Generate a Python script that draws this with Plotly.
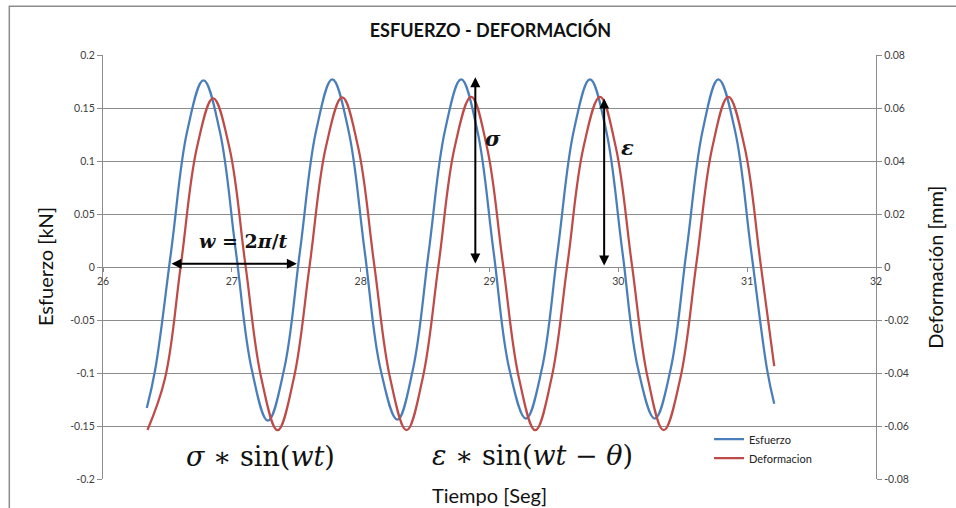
import plotly.graph_objects as go

# ---- data ----
esfuerzo_t = [26.34, 26.405, 26.53, 26.655, 26.78, 26.905, 27.03, 27.155, 27.28,
              27.405, 27.53, 27.655, 27.78, 27.905, 28.03, 28.155, 28.285,
              28.405, 28.53, 28.655, 28.78, 28.905, 29.03, 29.155, 29.283,
              29.405, 29.53, 29.655, 29.78, 29.905, 30.03, 30.155, 30.283,
              30.405, 30.53, 30.655, 30.777, 30.905, 31.03, 31.155, 31.21]
esfuerzo_kN = [-0.133, -0.097, 0.016, 0.129, 0.176, 0.129, 0.016, -0.097, -0.145,
               -0.097, 0.016, 0.129, 0.177, 0.129, 0.016, -0.097, -0.144,
               -0.097, 0.016, 0.129, 0.177, 0.129, 0.016, -0.097, -0.143,
               -0.097, 0.016, 0.129, 0.177, 0.129, 0.016, -0.097, -0.143,
               -0.097, 0.016, 0.129, 0.177, 0.129, 0.016, -0.097, -0.129]

deform_t = [26.345, 26.48, 26.605, 26.73, 26.855, 26.98, 27.105, 27.23, 27.355,
            27.48, 27.605, 27.73, 27.857, 27.98, 28.105, 28.23, 28.356,
            28.48, 28.605, 28.73, 28.858, 28.98, 29.105, 29.23, 29.355,
            29.48, 29.605, 29.73, 29.858, 29.98, 30.105, 30.23, 30.352,
            30.48, 30.605, 30.73, 30.854, 30.98, 31.105, 31.21]
deform_mm = [-0.0615, -0.0423, 0.001, 0.0453, 0.0636, 0.0453, 0.001, -0.0423, -0.0616,
             -0.0423, 0.001, 0.0453, 0.064, 0.0453, 0.001, -0.0423, -0.0616,
             -0.0423, 0.001, 0.0453, 0.0642, 0.0453, 0.001, -0.0423, -0.0616,
             -0.0423, 0.001, 0.0453, 0.0642, 0.0453, 0.001, -0.0423, -0.0616,
             -0.0423, 0.001, 0.0453, 0.0642, 0.0453, 0.001, -0.0374]

x_ticks = [26, 27, 28, 29, 30, 31, 32]
y1_ticks = [0.2, 0.15, 0.1, 0.05, 0, -0.05, -0.1, -0.15, -0.2]
y1_labels = ["0.2", "0.15", "0.1", "0.05", "0", "-0.05", "-0.1", "-0.15", "-0.2"]
y2_ticks = [0.08, 0.06, 0.04, 0.02, 0, -0.02, -0.04, -0.06, -0.08]
y2_labels = ["0.08", "0.06", "0.04", "0.02", "0", "-0.02", "-0.04", "-0.06", "-0.08"]

BLUE = "#4A7EBB"
RED = "#BE4B48"
GRID = "#8C8C8C"
TXT = "#404040"
FONT = "Lato"
MATH = "DejaVu Serif"

fig = go.Figure()
fig.add_trace(go.Scatter(x=esfuerzo_t, y=esfuerzo_kN, name="Esfuerzo", mode="lines",
                         line=dict(color=BLUE, width=2.25, shape="spline", smoothing=1.1)))
fig.add_trace(go.Scatter(x=deform_t, y=deform_mm, name="Deformacion", mode="lines", yaxis="y2",
                         line=dict(color=RED, width=2.25, shape="spline", smoothing=1.1)))

ann = []
# double-headed arrows
arrow_common = dict(text="", showarrow=True, arrowside="end+start", arrowhead=2,
                    arrowsize=1, arrowwidth=2, arrowcolor="black",
                    xref="x", yref="y", axref="x", ayref="y", standoff=0, startstandoff=0)
ann.append(dict(x=27.505, y=0.003, ax=26.52, ay=0.003, **arrow_common))
ann.append(dict(x=28.89, y=0.179, ax=28.89, ay=0.002, **arrow_common))
ann.append(dict(x=29.89, y=0.159, ax=29.89, ay=0.0, **arrow_common))

# math labels
ann.append(dict(x=27.09, y=0.025, xref="x", yref="y", showarrow=False, xanchor="center",
                text="<b><i>w</i> = 2<i>π</i>/<i>t</i></b>",
                font=dict(family=MATH, size=19, color="#111")))
ann.append(dict(x=29.03, y=0.121, xref="x", yref="y", showarrow=False, xanchor="center",
                text="<b><i>σ</i></b>", font=dict(family=MATH, size=21, color="#111")))
ann.append(dict(x=30.07, y=0.113, xref="x", yref="y", showarrow=False, xanchor="center",
                text="<b><i>ε</i></b>", font=dict(family=MATH, size=21, color="#111")))
ann.append(dict(x=27.22, y=-0.179, xref="x", yref="y", showarrow=False, xanchor="center",
                text="<i>σ</i> ∗ sin(<i>wt</i>)", font=dict(family=MATH, size=27, color="#111")))
ann.append(dict(x=29.33, y=-0.178, xref="x", yref="y", showarrow=False, xanchor="center",
                text="<i>ε</i> ∗ sin(<i>wt</i> − <i>θ</i>)", font=dict(family=MATH, size=27, color="#111")))

# axis titles as annotations
ann.append(dict(x=-0.075, y=0.5, xref="paper", yref="paper", showarrow=False, textangle=-90,
                xanchor="center", yanchor="middle",
                text="Esfuerzo [kN]", font=dict(family=FONT, size=20, color="#111")))
ann.append(dict(x=1.076, y=0.5, xref="paper", yref="paper", showarrow=False, textangle=-90,
                xanchor="center", yanchor="middle",
                text="Deformación [mm]", font=dict(family=FONT, size=20, color="#111")))
ann.append(dict(x=0.5, y=-0.038, xref="paper", yref="paper", showarrow=False,
                xanchor="center", yanchor="middle",
                text="Tiempo [Seg]", font=dict(family=FONT, size=20, color="#111")))

fig.update_layout(
    width=956, height=508,
    margin=dict(l=103, r=80, t=55, b=29),
    paper_bgcolor="white", plot_bgcolor="white",
    title=dict(text="<b>ESFUERZO - DEFORMACIÓN</b>", x=0.513, xanchor="center",
               y=0.94, yanchor="middle", font=dict(family=FONT, size=18, color="#111")),
    font=dict(family=FONT, color=TXT),
    showlegend=True,
    legend=dict(x=0.784, y=0.128, xanchor="left", yanchor="top", bgcolor="rgba(0,0,0,0)",
                font=dict(family=FONT, size=11, color="#222"), tracegroupgap=0,
                itemwidth=30),
    annotations=ann,
    xaxis=dict(range=[26, 32], tickvals=x_ticks, ticktext=[str(v) for v in x_ticks],
               anchor="free", position=0.5, showgrid=False, zeroline=False, showline=False,
               ticks="outside", ticklen=4, tickcolor=GRID,
               tickfont=dict(family=FONT, size=10.5, color=TXT)),
    yaxis=dict(range=[-0.2, 0.2], tickvals=y1_ticks, ticktext=y1_labels,
               showgrid=True, gridcolor=GRID, gridwidth=1, zeroline=False,
               showline=True, linecolor=GRID, linewidth=1.2,
               ticks="outside", ticklen=5, tickcolor=GRID,
               tickfont=dict(family=FONT, size=10.5, color=TXT)),
    yaxis2=dict(range=[-0.08, 0.08], tickvals=y2_ticks, ticktext=y2_labels,
                overlaying="y", side="right", showgrid=False, zeroline=False,
                showline=True, linecolor=GRID, linewidth=1.2,
                ticks="outside", ticklen=5, tickcolor=GRID,
                tickfont=dict(family=FONT, size=10.5, color=TXT)),
    shapes=[dict(type="rect", xref="paper", yref="paper",
                 x0=-0.1212, x1=1.11, y0=-0.08, y1=1.1149,
                 line=dict(color="#8C8C8C", width=1.5), fillcolor="rgba(0,0,0,0)",
                 layer="below")],
)

fig.write_html("out.html", config={"displayModeBar": False},
               post_script="document.body.style.margin='0';")
